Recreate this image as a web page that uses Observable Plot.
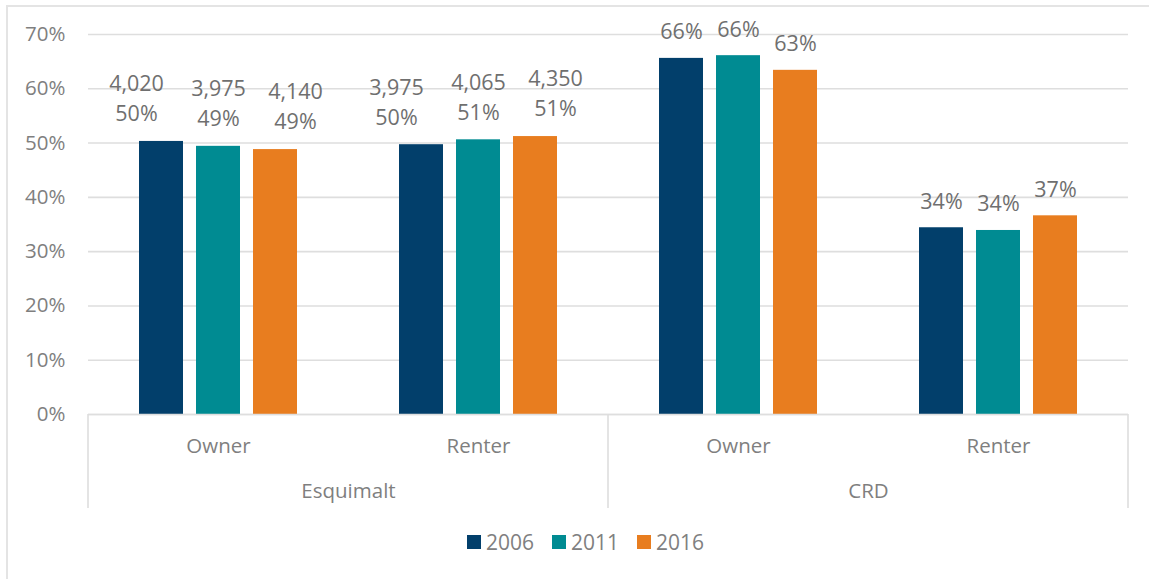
<!DOCTYPE html>
<html><head><meta charset="utf-8">
<script src="https://cdn.jsdelivr.net/npm/d3@7"></script>
<script src="https://cdn.jsdelivr.net/npm/@observablehq/plot@0.6"></script>
<style>
body{margin:0;background:#fff;font-family:"Open Sans",sans-serif;}
#wrap{position:relative;width:1149px;height:579px;overflow:hidden;background:#fff;}
#border{position:absolute;left:6px;top:5px;width:1200px;height:620px;border-left:2px solid #e4e4e4;border-top:2px solid #e4e4e4;}
#chart{position:absolute;left:0;top:0;}
#legend{position:absolute;left:467px;top:528px;display:flex;align-items:center;font-size:21px;color:#808080;}
#legend .item{display:flex;align-items:center;margin-right:18px;}
#legend .sw{width:14px;height:14px;margin-right:5px;}
</style></head><body>
<div id="wrap"><div id="border"></div><div id="chart"></div><div id="legend"></div></div>
<script>
// ---- data ----
const regions = ["Esquimalt", "Esquimalt", "CRD", "CRD"];
const tenure = ["Owner", "Renter", "Owner", "Renter"];
const years = ["2006", "2011", "2016"];
const share2006 = [50.3, 49.7, 65.6, 34.4];
const share2011 = [49.4, 50.6, 66.1, 33.9];
const share2016 = [48.8, 51.2, 63.4, 36.6];
const count2006 = ["4,020", "3,975", null, null];
const count2011 = ["3,975", "4,065", null, null];
const count2016 = ["4,140", "4,350", null, null];
const yTicks = [0, 10, 20, 30, 40, 50, 60, 70];
const colors = ["#023F6B", "#008B92", "#E87D1F"];

// ---- build table ----
const keys = regions.map((r, i) => r + "|" + tenure[i]);
const shares = [share2006, share2011, share2016];
const counts = [count2006, count2011, count2016];
const rows = [];
keys.forEach((k, i) => {
  years.forEach((yr, j) => {
    rows.push({key: k, region: regions[i], tenure: tenure[i], year: yr, share: shares[j][i], count: counts[j][i]});
  });
});
const regionRows = keys.map((k, i) => ({key: k, region: regions[i], tenure: tenure[i]}))
  .filter((d, i) => i === keys.findIndex((k2, i2) => regions[i2] === d.region));

const labelColor = "#6f6f6f";
const axisColor = "#7f7f7f";
const gridColor = "#dedede";
// horizontal spreading of the crowded two-line labels (style, per series)
const labelSpread = [-25, 0, 20];

const crowded = rows.filter(d => d.count);
const plain = rows.filter(d => !d.count);

const plot = Plot.plot({
  width: 1149,
  height: 515,
  marginLeft: 88,
  marginRight: 21,
  marginTop: 34,
  marginBottom: 101,
  style: {fontFamily: "'Open Sans', sans-serif", fontSize: "20.5px", background: "transparent"},
  fx: {domain: keys, paddingInner: 0, paddingOuter: 0, label: null, axis: "bottom",
       tickSize: 0, tickPadding: 24, tickFormat: d => d.split("|")[1]},
  x: {domain: years, paddingInner: 0.22, paddingOuter: 0.87, axis: null},
  y: {domain: [0, 70], ticks: yTicks, tickFormat: d => d + "%", tickSize: 0, tickPadding: 23, label: null},
  color: {domain: years, range: colors},
  marks: [
    Plot.gridY(yTicks, {stroke: gridColor, strokeOpacity: 1, strokeWidth: 1.6}),
    Plot.barY(rows, {fx: "key", x: "year", y: "share", fill: "year"}),
    Plot.ruleY([0], {stroke: gridColor, strokeWidth: 1.6}),
    Plot.text(plain, {fx: "key", x: "year", y: "share", text: d => Math.round(d.share) + "%",
      dy: -26, fill: labelColor, fontSize: 21.5}),
    ...years.map((yr, j) => Plot.text(crowded.filter(d => d.year === yr), {fx: "key", x: "year", y: "share",
      text: d => Math.round(d.share) + "%", dx: labelSpread[j], dy: -27, fill: labelColor, fontSize: 21.5})),
    ...years.map((yr, j) => Plot.text(crowded.filter(d => d.year === yr), {fx: "key", x: "year", y: "share",
      text: "count", dx: labelSpread[j], dy: -57, fill: labelColor, fontSize: 21.5})),
    Plot.text(regionRows, {fx: "key", text: "region", frameAnchor: "bottom-right", textAnchor: "middle",
      dy: 83, fill: axisColor, fontSize: 20.5})
  ]
});

// color the axis tick labels
d3.select(plot).selectAll("g[aria-label='y-axis tick label'] text, g[aria-label='fx-axis tick label'] text, g[aria-label='y-axis tick label'], g[aria-label='fx-axis tick label']")
  .attr("fill", axisColor);

// category separators from the fx and y scales
const fxs = plot.scale("fx");
const band = d3.scaleBand().domain(fxs.domain).range(fxs.range)
  .paddingInner(fxs.paddingInner ?? 0).paddingOuter(fxs.paddingOuter ?? 0).align(fxs.align ?? 0.5);
const ys = plot.scale("y");
const yLin = d3.scaleLinear().domain(ys.domain).range(ys.range);
const y0 = yLin(0);
const edges = [];
keys.forEach((k, i) => {
  if (i === 0 || regions[i] !== regions[i - 1]) edges.push(band(k));
});
edges.push(band(keys[keys.length - 1]) + band.bandwidth());
const sep = d3.select(plot).append("g");
edges.forEach(x => {
  sep.append("line").attr("x1", x).attr("x2", x).attr("y1", y0).attr("y2", y0 + 94)
    .attr("stroke", gridColor).attr("stroke-width", 1.6);
});

document.getElementById("chart").appendChild(plot);

// legend
const lg = document.getElementById("legend");
years.forEach((yr, j) => {
  const it = document.createElement("div");
  it.className = "item";
  const sw = document.createElement("div");
  sw.className = "sw";
  sw.style.background = colors[j];
  const t = document.createElement("span");
  t.textContent = yr;
  it.appendChild(sw); it.appendChild(t);
  lg.appendChild(it);
});
</script>
</body></html>
